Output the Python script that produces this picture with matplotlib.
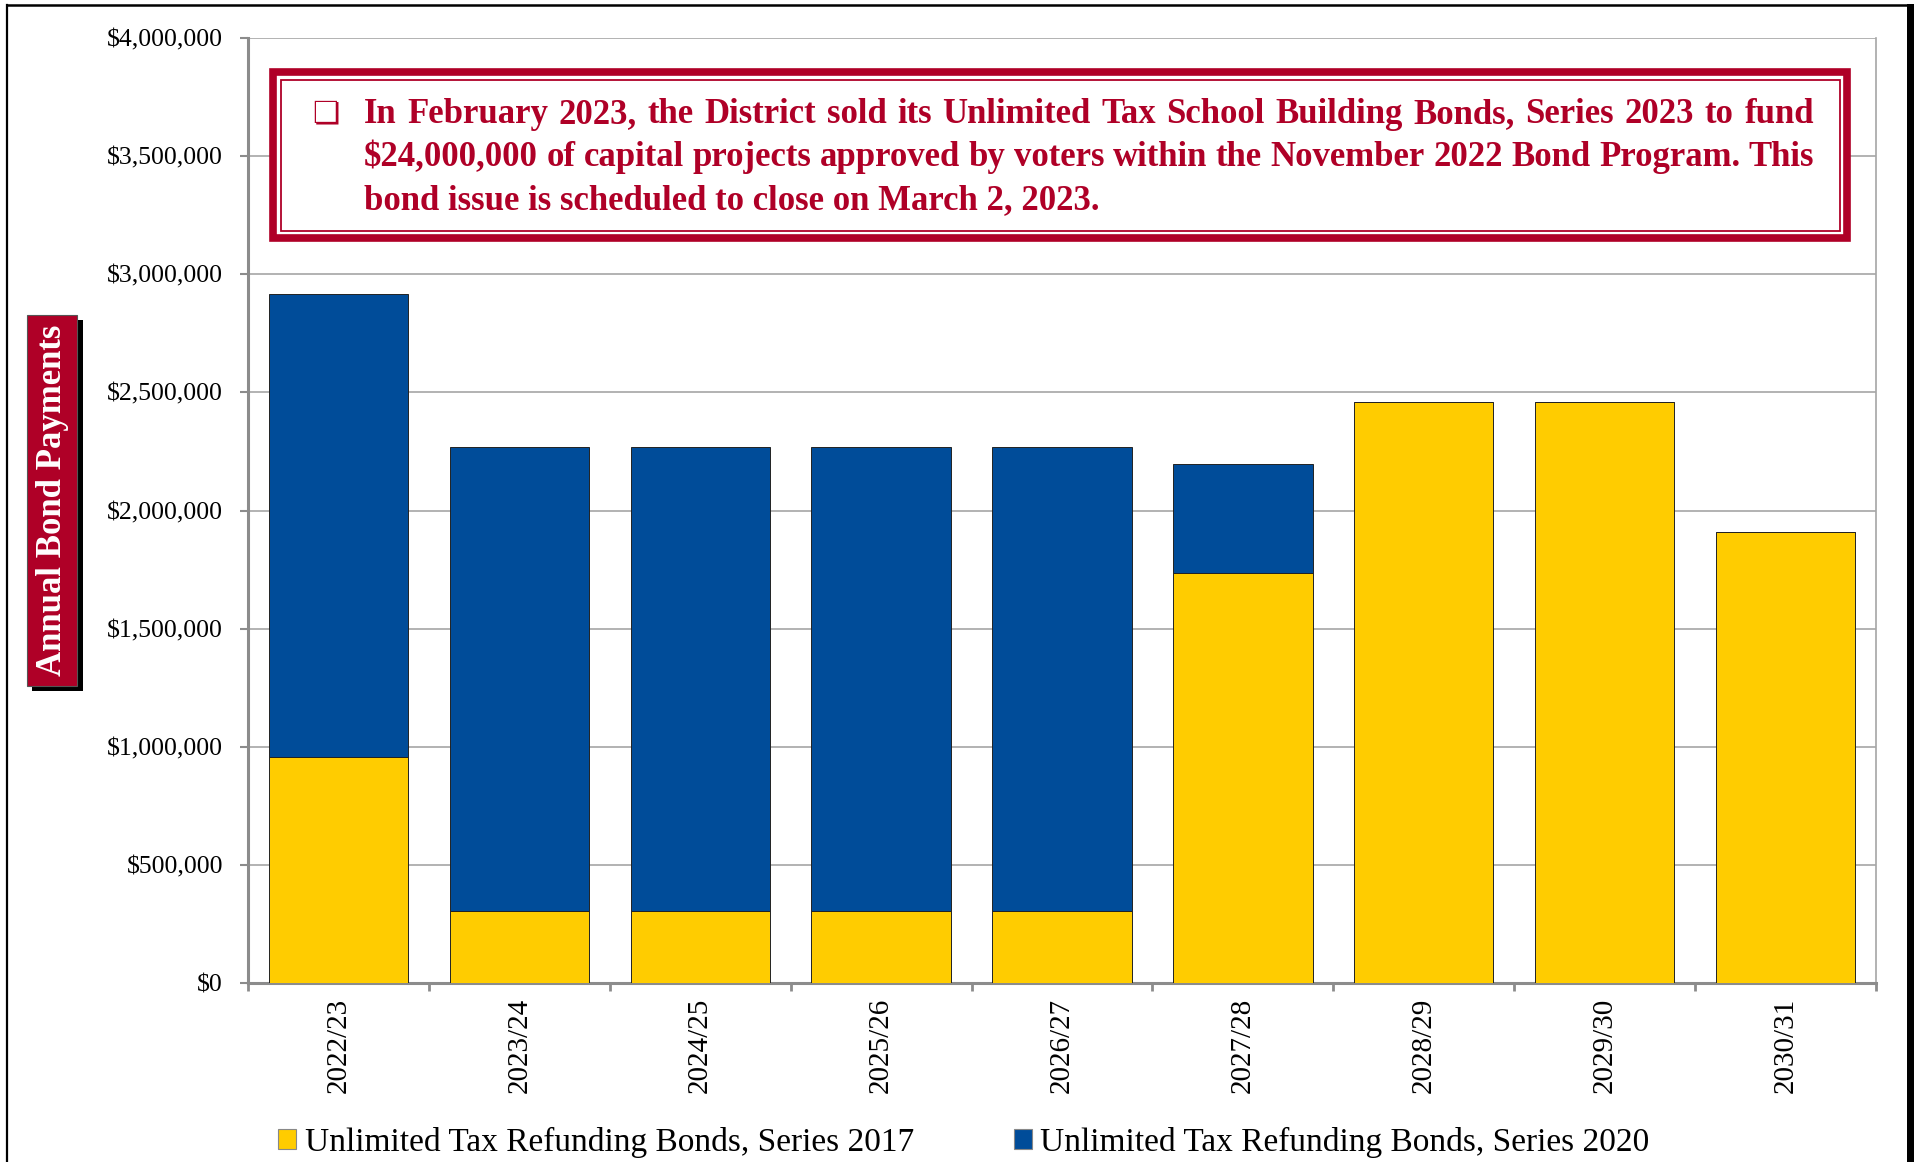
import matplotlib
matplotlib.use("Agg")
import matplotlib.pyplot as plt
from matplotlib.patches import Rectangle
from matplotlib.lines import Line2D
import numpy as np

# ---------------- data ----------------
categories = ["2022/23", "2023/24", "2024/25", "2025/26", "2026/27",
              "2027/28", "2028/29", "2029/30", "2030/31"]
series_2017 = [956000, 306000, 306000, 306000, 306000, 1736000, 2461000, 2461000, 1910000]
series_2020 = [1962000, 1963000, 1962000, 1962000, 1962000, 459000, 0, 0, 0]
y_ticks = [0, 500000, 1000000, 1500000, 2000000, 2500000, 3000000, 3500000, 4000000]
y_tick_labels = ["$0", "$500,000", "$1,000,000", "$1,500,000", "$2,000,000",
                 "$2,500,000", "$3,000,000", "$3,500,000", "$4,000,000"]
legend_labels = ["Unlimited Tax Refunding Bonds, Series 2017",
                 "Unlimited Tax Refunding Bonds, Series 2020"]
y_label = "Annual Bond Payments"
note_lines = [
    "In February 2023, the District sold its Unlimited Tax School Building Bonds, Series 2023 to fund",
    "$24,000,000 of capital projects approved by voters within the November 2022 Bond Program. This",
    "bond issue is scheduled to close on March 2, 2023.",
]

# ---------------- style ----------------
YELLOW = "#FFCC00"
BLUE = "#004C99"
RED = "#AF0027"
GRID = "#A6A6A6"
SPINE = "#8C8C8C"

plt.rcParams["font.family"] = ["Liberation Serif", "DejaVu Serif"]

W, H, DPI = 1915, 1162, 100
fig = plt.figure(figsize=(W / DPI, H / DPI), dpi=DPI)
fig.patch.set_facecolor("white")


def fx(px):
    return px / W


def fy(py):
    return 1 - py / H


# ---------------- axes ----------------
ax = fig.add_axes([fx(248), fy(983), fx(1876) - fx(248), fy(38) - fy(983)])
x = np.arange(len(categories))
ax.bar(x, series_2017, width=0.77, color=YELLOW, edgecolor="#222222",
       linewidth=0.7, label=legend_labels[0], zorder=3)
ax.bar(x, series_2020, bottom=series_2017, width=0.77, color=BLUE,
       edgecolor="#222222", linewidth=0.7, label=legend_labels[1], zorder=3)

ax.set_xlim(-0.5, len(categories) - 0.5)
ax.set_ylim(0, 4000000)
ax.set_yticks(y_ticks, labels=y_tick_labels)
ax.set_xticks(x, labels=categories, rotation=90)
ax.set_xticks(np.arange(-0.5, len(categories), 1.0), minor=True)
ax.tick_params(axis="x", which="major", length=0, pad=10.5, labelsize=21)
ax.tick_params(axis="x", which="minor", length=6, width=2, color=SPINE, direction="out")
ax.tick_params(axis="y", length=6, width=1.5, color=SPINE, pad=12, labelsize=18.5)
ax.grid(axis="y", color=GRID, linewidth=1.2, zorder=0)
ax.set_axisbelow(True)
for s in ["left", "bottom"]:
    ax.spines[s].set_color(SPINE)
    ax.spines[s].set_linewidth(2.2)
ax.spines["right"].set_color(GRID)
ax.spines["right"].set_linewidth(1.2)
ax.spines["top"].set_visible(False)

# ---------------- legend ----------------
leg = fig.legend(loc="center", bbox_to_anchor=(fx(964), fy(1142)), ncol=2,
                 frameon=False, fontsize=24, handlelength=0.54, handleheight=0.54,
                 handletextpad=0.25, columnspacing=3.0, borderaxespad=0)
for h in leg.legend_handles:
    h.set_edgecolor("#888888")
    h.set_linewidth(0.8)

# ---------------- outer frame ----------------
fig.add_artist(Line2D([fx(7), fx(7)], [fy(4.7), 0], color="black", lw=1.6,
                      transform=fig.transFigure))
fig.add_artist(Line2D([fx(7), fx(1908)], [fy(4.7), fy(4.7)], color="black", lw=1.8,
                      transform=fig.transFigure))
fig.add_artist(Rectangle((fx(1907), 0), fx(1915) - fx(1907), fy(4) - 0,
                         facecolor="black", edgecolor="none", transform=fig.transFigure))

# ---------------- y label box ----------------
fig.add_artist(Rectangle((fx(32), fy(691)), fx(83) - fx(32), fy(320) - fy(691),
                         facecolor="black", edgecolor="none", transform=fig.transFigure))
fig.add_artist(Rectangle((fx(27), fy(686)), fx(77) - fx(27), fy(315) - fy(686),
                         facecolor=RED, edgecolor="#555555", linewidth=0.8,
                         transform=fig.transFigure))
fig.text(fx(53), fy(500), y_label, rotation=90, ha="center", va="center",
         color="white", fontsize=25, fontweight="bold")

# ---------------- annotation box ----------------
fig.add_artist(Rectangle((fx(272.9), fy(237.8)), fx(1847.2) - fx(272.9), fy(72.2) - fy(237.8),
                         facecolor="white", edgecolor=RED, linewidth=5.5,
                         transform=fig.transFigure, zorder=5))
fig.add_artist(Rectangle((fx(281), fy(231)), fx(1840) - fx(281), fy(79.5) - fy(231),
                         facecolor="none", edgecolor=RED, linewidth=1.3,
                         transform=fig.transFigure, zorder=6))

fig.text(fx(312), fy(122), "\u274f", family="DejaVu Sans", color=RED, fontsize=22,
         ha="left", va="baseline", zorder=7)

renderer = fig.canvas.get_renderer()
note_kw = dict(color=RED, fontsize=25, fontweight="bold", ha="left", va="baseline", zorder=7)
baselines = [123, 166, 209]
left_px, right_px = 364, 1814
for i, line in enumerate(note_lines):
    if i < 2:
        words = line.split(" ")
        texts = [fig.text(0, 0, w_, **note_kw) for w_ in words]
        widths = [t.get_window_extent(renderer).width for t in texts]
        gap = (right_px - left_px - sum(widths)) / (len(words) - 1)
        xp = left_px
        for t, wd in zip(texts, widths):
            t.set_position((fx(xp), fy(baselines[i])))
            xp += wd + gap
    else:
        fig.text(fx(left_px), fy(baselines[i]), line, **note_kw)

fig.savefig("out.png", dpi=DPI)
